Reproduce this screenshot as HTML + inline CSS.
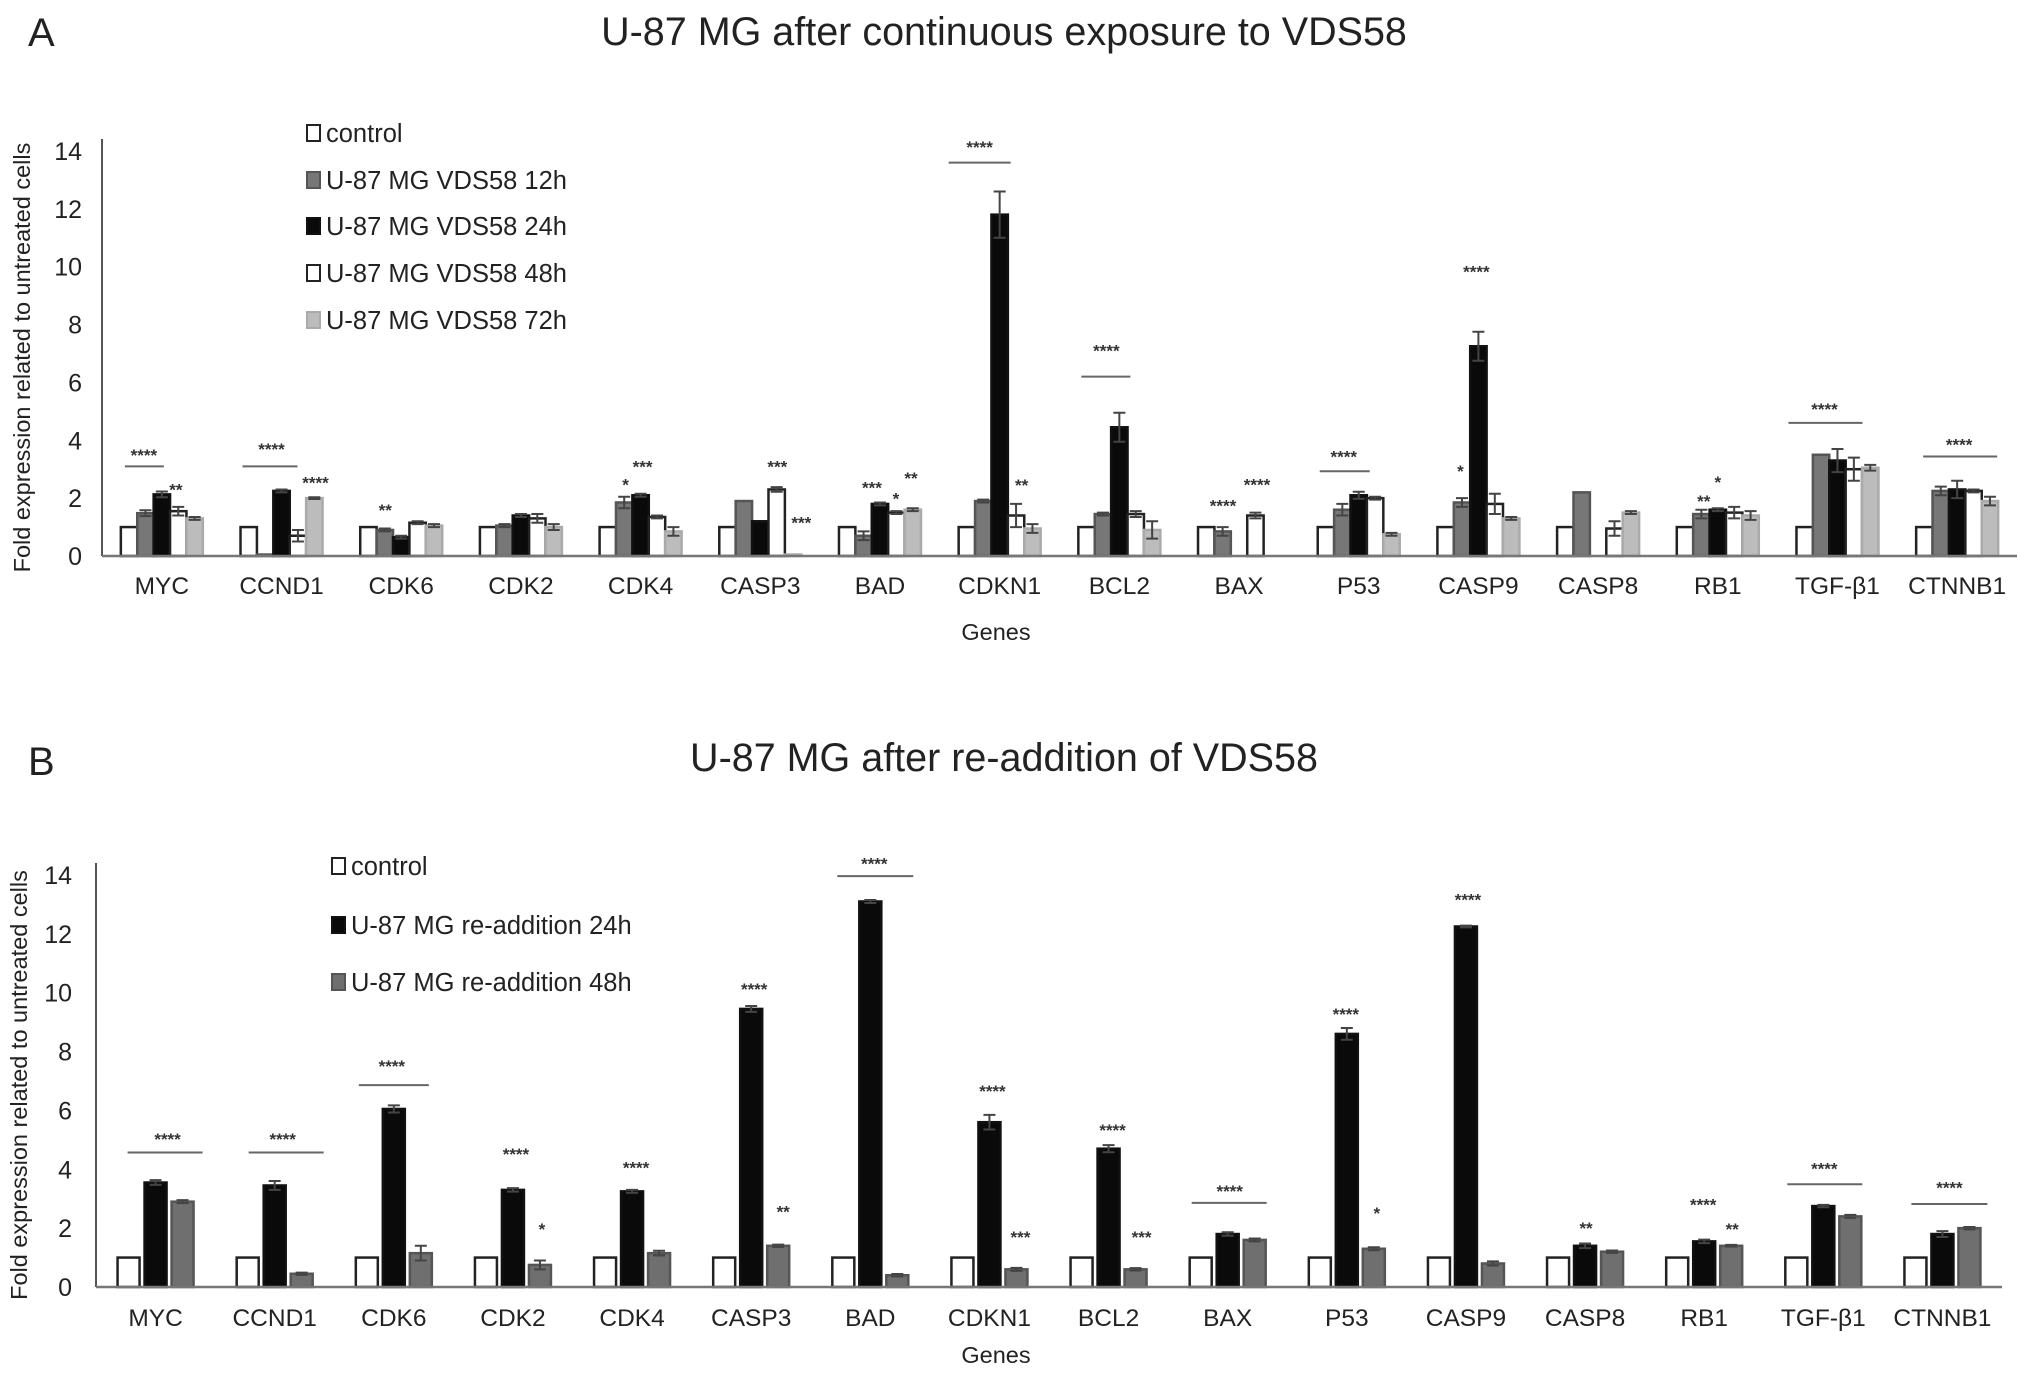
<!DOCTYPE html>
<html><head><meta charset="utf-8">
<style>
html,body{margin:0;padding:0;background:#fff;}
svg{display:block;font-family:"Liberation Sans",Arial,sans-serif;}
</style></head>
<body>
<svg id="fig" width="2031" height="1377" viewBox="0 0 2031 1377" xmlns="http://www.w3.org/2000/svg">
<text x="28" y="46" font-size="40" fill="#222">A</text>
<text x="1004" y="45" font-size="39.5" fill="#222" text-anchor="middle">U-87 MG after continuous exposure to VDS58</text>
<text x="28" y="775" font-size="40" fill="#222">B</text>
<text x="1004" y="771" font-size="39.5" fill="#222" text-anchor="middle">U-87 MG after re-addition of VDS58</text>
<g id="panelA"></g>
<g id="panelB"></g>
</svg>
<script>
const genes = ["MYC","CCND1","CDK6","CDK2","CDK4","CASP3","BAD","CDKN1","BCL2","BAX","P53","CASP9","CASP8","RB1","TGF-β1","CTNNB1"];
const yTicks = [0,2,4,6,8,10,12,14];

// Panel A series
const aSeriesNames = ["control","U-87 MG VDS58 12h","U-87 MG VDS58 24h","U-87 MG VDS58 48h","U-87 MG VDS58 72h"];
const aControl = [1,1,1,1,1,1,1,1,1,1,1,1,1,1,1,1];
const a12h = [1.48,0.05,0.9,1.05,1.85,1.9,0.7,1.9,1.45,0.85,1.6,1.85,2.2,1.45,3.5,2.25];
const a24h = [2.13,2.25,0.65,1.4,2.1,1.2,1.8,11.8,4.45,0,2.1,7.25,0,1.6,3.3,2.3];
const a48h = [1.55,0.7,1.15,1.3,1.35,2.3,1.5,1.4,1.45,1.4,2.0,1.8,0.95,1.5,3.0,2.25];
const a72h = [1.3,2.0,1.05,1.0,0.85,0.05,1.6,0.95,0.9,0,0.75,1.3,1.5,1.4,3.05,1.9];
const a12hErr = [0.1,0,0.05,0.05,0.2,0,0.15,0.05,0.05,0.15,0.2,0.15,0,0.15,0,0.15];
const a24hErr = [0.1,0.05,0.05,0.05,0.05,0,0.05,0.8,0.5,0,0.12,0.5,0,0.05,0.4,0.3];
const a48hErr = [0.15,0.2,0.05,0.15,0.05,0.08,0.05,0.4,0.1,0.1,0.05,0.35,0.25,0.2,0.4,0.05];
const a72hErr = [0.05,0.03,0.05,0.1,0.15,0,0.05,0.15,0.3,0,0.05,0.05,0.05,0.15,0.1,0.15];
// annotations: [gene index, dx from group center(px), value, text]
const aStars = [[0,-18,3.6,"****"],[0,14,2.4,"**"],[1,-10,3.8,"****"],[1,34,2.65,"****"],[2,-16,1.7,"**"],[4,-15,2.57,"*"],[4,2,3.2,"***"],[5,17,3.2,"***"],[5,41,1.26,"***"],[6,-8,2.47,"***"],[6,16,2.1,"*"],[6,31,2.8,"**"],[7,-20,14.25,"****"],[7,22,2.55,"**"],[8,-13,7.2,"****"],[9,-16,1.85,"****"],[9,18,2.57,"****"],[10,-15,3.55,"****"],[11,-18,3.05,"*"],[11,-2,9.93,"****"],[13,-14,2.0,"**"],[13,0,2.67,"*"],[14,-13,5.18,"****"],[15,2,3.95,"****"]];
// lines: [gene index, dx0, dx1, value]
const aLines = [[0,-37,2,3.1],[1,-39,16,3.1],[7,-51,11,13.6],[8,-38,11,6.2],[10,-39,11,2.93],[14,-49,25,4.6],[15,-34,40,3.44]];

// Panel B series
const bSeriesNames = ["control","U-87 MG re-addition 24h","U-87 MG re-addition 48h"];
const bControl = [1,1,1,1,1,1,1,1,1,1,1,1,1,1,1,1];
const b24h = [3.55,3.45,6.05,3.3,3.25,9.45,13.1,5.6,4.7,1.8,8.6,12.25,1.4,1.55,2.75,1.8];
const b48h = [2.9,0.45,1.15,0.75,1.15,1.4,0.4,0.6,0.6,1.6,1.3,0.8,1.2,1.4,2.4,2.0];
const b24hErr = [0.08,0.15,0.12,0.06,0.05,0.1,0.05,0.25,0.12,0.06,0.2,0.03,0.08,0.06,0.04,0.1];
const b48hErr = [0.05,0.04,0.25,0.15,0.08,0.04,0.04,0.05,0.04,0.05,0.05,0.07,0.04,0.03,0.05,0.04];
const bStars = [[0,12,5.13,"****"],[1,8,5.13,"****"],[2,-2,7.62,"****"],[3,3,4.62,"****"],[3,29,2.08,"*"],[4,4,4.16,"****"],[5,3,10.22,"****"],[5,32,2.67,"**"],[6,4,14.49,"****"],[7,3,6.77,"****"],[7,31,1.8,"***"],[8,4,5.43,"****"],[8,33,1.8,"***"],[9,2,3.37,"****"],[10,-1,9.38,"****"],[10,30,2.61,"*"],[11,2,13.27,"****"],[12,1,2.1,"**"],[13,-1,2.9,"****"],[13,28,2.08,"**"],[14,1,4.13,"****"],[15,7,3.49,"****"]];
const bLines = [[0,-28,47,4.57],[1,-26,49,4.57],[2,-35,35,6.86],[6,-33,43,13.96],[9,-36,39,2.86],[14,-36,39,3.49],[15,-31,45,2.82]];

const NS = "http://www.w3.org/2000/svg";
function mk(parent, tag, attrs){
  const el = document.createElementNS(NS, tag);
  for (const k in attrs) el.setAttribute(k, attrs[k]);
  parent.appendChild(el);
  return el;
}

function drawPanel(g, cfg){
  const x0 = cfg.x0, x1 = cfg.x1, y0 = cfg.y0, y14 = cfg.y14;
  const yScale = v => y0 - (y0 - y14) * v / 14;
  const gw = (x1 - x0) / genes.length;
  const gc = i => x0 + gw * (i + 0.5);
  const nb = cfg.series.length;
  const barX = (i, s) => gc(i) - cfg.bw * nb / 2 - cfg.gap * (nb - 1) / 2 + s * (cfg.bw + cfg.gap);

  const ya = mk(g, "line", {x1:x0, y1:y0, x2:x0, y2:y14 - 12, stroke:"#555", "stroke-width":2});
  
  
  yTicks.forEach(t => {
    const tx = mk(g, "text", {x:cfg.tickX, y:yScale(t) + 9, "font-size":25, "text-anchor":"end", fill:"#222"});
    
    
    tx.textContent = t;
  });
  const yl = mk(g, "text", {x:0, y:0, "font-size":23.5, "text-anchor":"middle", fill:"#222", transform:`translate(${cfg.ylabX},${(y0 + y14) / 2 + 4}) rotate(-90)`});
  
  
  yl.textContent = "Fold expression related to untreated cells";

  genes.forEach((gname, i) => {
    cfg.series.forEach((vals, s) => {
      const v = vals[i];
      if (v <= 0) return;
      const x = barX(i, s), yt = yScale(v);
      const r = mk(g, "rect", {x:x, y:yt, width:cfg.bw, height:y0 - yt, fill:cfg.colors[s], stroke:cfg.strokes[s], "stroke-width":2.5});
      
      
      const e = cfg.errs[s] ? cfg.errs[s][i] : 0;
      if (e > 0) {
        const cx = x + cfg.bw / 2;
        const el = mk(g, "path", {d:`M${cx},${yScale(v + e)}V${yScale(v - e)}M${cx - 6},${yScale(v + e)}H${cx + 6}M${cx - 6},${yScale(v - e)}H${cx + 6}`, stroke:"#444", "stroke-width":2, fill:"none"});
        
        
      }
    });
    const lab = mk(g, "text", {x:gc(i), y:cfg.catY, "font-size":24.5, "text-anchor":"middle", fill:"#222"});
    
    
    lab.textContent = gname;
  });

  const xa = mk(g, "line", {x1:x0, y1:y0, x2:x1, y2:y0, stroke:"#777", "stroke-width":2.5});
  
  
  const xt = mk(g, "text", {x:cfg.genesX, y:cfg.genesY, "font-size":23.5, "text-anchor":"middle", fill:"#222"});
  
  
  xt.textContent = "Genes";

  cfg.lines.forEach(l => {
    const ln = mk(g, "line", {x1:gc(l[0]) + l[1], x2:gc(l[0]) + l[2], y1:yScale(l[3]), y2:yScale(l[3]), stroke:"#666", "stroke-width":2});
    
    
  });
  cfg.stars.forEach(st => {
    const t = mk(g, "text", {x:gc(st[0]) + st[1], y:yScale(st[2]) + 9, "font-size":17, "font-weight":"bold", "text-anchor":"middle", fill:"#333"});
    
    
    t.textContent = st[3];
  });

  cfg.names.forEach((n, s) => {
    const ly = cfg.legY[s];
    const sq = mk(g, "rect", {x:cfg.legX, y:ly - 8, width:13, height:16, fill:cfg.colors[s], stroke:cfg.strokes[s], "stroke-width":2});
    
    
    const lt = mk(g, "text", {x:cfg.legX + 19, y:ly + 9, "font-size":25.5, fill:"#222"});
    
    
    lt.textContent = n;
  });
}

drawPanel(document.getElementById("panelA"), {
  x0:102, x1:2017, y0:556, y14:151, bw:16.4, gap:0,
  series:[aControl,a12h,a24h,a48h,a72h],
  errs:[null,a12hErr,a24hErr,a48hErr,a72hErr],
  colors:["#fff","#777","#0a0a0a","#fff","#bcbcbc"],
  strokes:["#222","#555","#111","#222","#aaa"],
  names:aSeriesNames, legX:307, legY:[133,180,226,273,320],
  tickX:82, ylabX:30, catY:594, genesX:996, genesY:640,
  stars:aStars, lines:aLines
});
drawPanel(document.getElementById("panelB"), {
  x0:96, x1:2002, y0:1287, y14:875, bw:22, gap:5,
  series:[bControl,b24h,b48h],
  errs:[null,b24hErr,b48hErr],
  colors:["#fff","#0a0a0a","#6f6f6f"],
  strokes:["#222","#111","#555"],
  names:bSeriesNames, legX:332, legY:[866,925,982],
  tickX:72, ylabX:27, catY:1326, genesX:996, genesY:1363,
  stars:bStars, lines:bLines
});
</script>
</body></html>
